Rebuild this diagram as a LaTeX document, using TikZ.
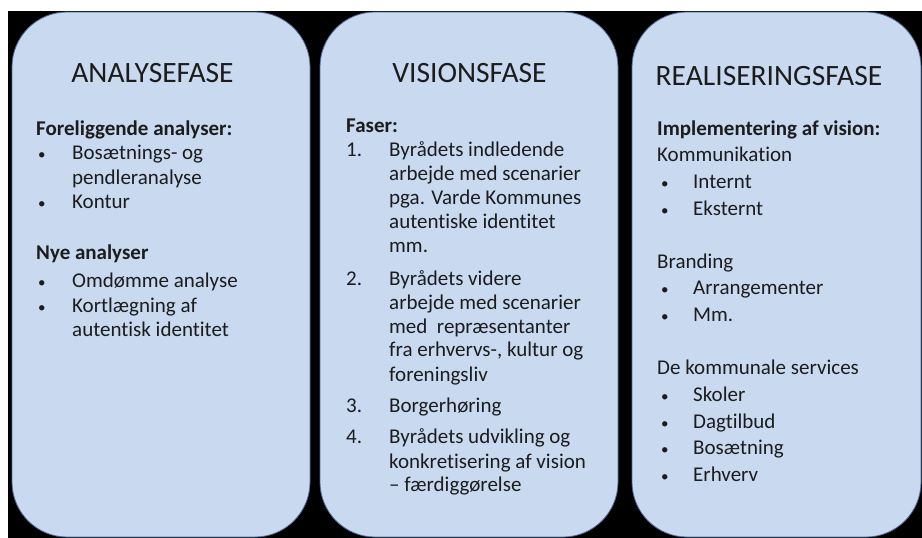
\documentclass[tikz,border=0pt]{standalone}
\usepackage{fontspec}
\setmainfont[Ligatures={NoCommon}]{Carlito}
\usetikzlibrary{calc}

\definecolor{phasefill}{RGB}{200,217,240}
\definecolor{phaseline}{RGB}{78,104,150}
\definecolor{textgray}{RGB}{28,28,28}
\newcommand{\dotitem}{{\fontsize{15}{15}\selectfont•}}

\begin{document}
\begin{tikzpicture}[x=1pt,y=-1pt]
    \tikzstyle{phase}=[draw=phaseline, line width=0.8pt, fill=phasefill, rounded corners=55pt, minimum height=525pt, inner sep=0pt]
    \tikzstyle{title}=[font=\fontsize{29.5}{32}\selectfont, text=textgray, inner sep=0pt]
    \tikzstyle{body}=[anchor=base west, inner sep=0pt, text=textgray]
    \useasboundingbox (0,0) rectangle (922,538);
    \fill[white] (0,0) rectangle (922,538);
    \fill[black] (8,11) rectangle (922,538);
    % the three phases
    \node[phase, minimum width=298pt] (P0) at (161,274.5) {};
    \node[phase, minimum width=298pt] (P1) at (469,274.5) {};
    \node[phase, minimum width=289pt] (P2) at (776.5,274.5) {};
    \node[title] (T0) at (152.5,73) {ANALYSEFASE};
    \node[title] (T1) at (469.5,73) {VISIONSFASE};
    \node[title] (T2) at (769,76) {REALISERINGSFASE};
    % analysefase
    \node[body, font=\fontsize{21}{24.5}\selectfont] (B0) at (36,135) {%
        \begin{tabular}[t]{@{}p{36pt}@{}l@{}}
        \multicolumn{2}{@{}l@{}}{\textbf{Foreliggende analyser:}}\\
        \hspace{2pt}\dotitem&Bosætnings- og\\
        &pendleranalyse\\
        \hspace{2pt}\dotitem&Kontur\\[26pt]
        \multicolumn{2}{@{}l@{}}{\textbf{Nye analyser}}\\[4pt]
        \hspace{2pt}\dotitem&Omdømme analyse\\
        \hspace{2pt}\dotitem&Kortlægning af\\
        &autentisk identitet
        \end{tabular}};
    % visionsfase
    \node[body, font=\fontsize{21}{24}\selectfont] (B1) at (346,132) {%
        \begin{tabular}[t]{@{}p{43pt}@{}l@{}}
        \multicolumn{2}{@{}l@{}}{\textbf{Faser:}}\\
        1.&Byrådets indledende\\
        &arbejde med scenarier\\
        &pga. Varde Kommunes\\
        &autentiske identitet\\
        &mm.\\[9pt]
        2.&Byrådets videre\\
        &arbejde med scenarier\\
        &med~~repræsentanter\\
        &fra erhvervs-, kultur og\\
        &foreningsliv\\[8pt]
        3.&Borgerhøring\\[7pt]
        4.&Byrådets udvikling og\\
        &konkretisering af vision\\
        &– færdiggørelse
        \end{tabular}};
    % realiseringsfase
    \node[body, font=\fontsize{21}{26.8}\selectfont] (B2) at (657,135) {%
        \begin{tabular}[t]{@{}p{36pt}@{}l@{}}
        \multicolumn{2}{@{}l@{}}{\textbf{Implementering af vision:}}\\
        \multicolumn{2}{@{}l@{}}{Kommunikation}\\
        \hspace{4pt}\dotitem&Internt\\
        \hspace{4pt}\dotitem&Eksternt\\[26pt]
        \multicolumn{2}{@{}l@{}}{Branding}\\
        \hspace{4pt}\dotitem&Arrangementer\\
        \hspace{4pt}\dotitem&Mm.\\[26pt]
        \multicolumn{2}{@{}l@{}}{De kommunale services}\\
        \hspace{4pt}\dotitem&Skoler\\
        \hspace{4pt}\dotitem&Dagtilbud\\
        \hspace{4pt}\dotitem&Bosætning\\
        \hspace{4pt}\dotitem&Erhverv
        \end{tabular}};
\end{tikzpicture}
\end{document}
